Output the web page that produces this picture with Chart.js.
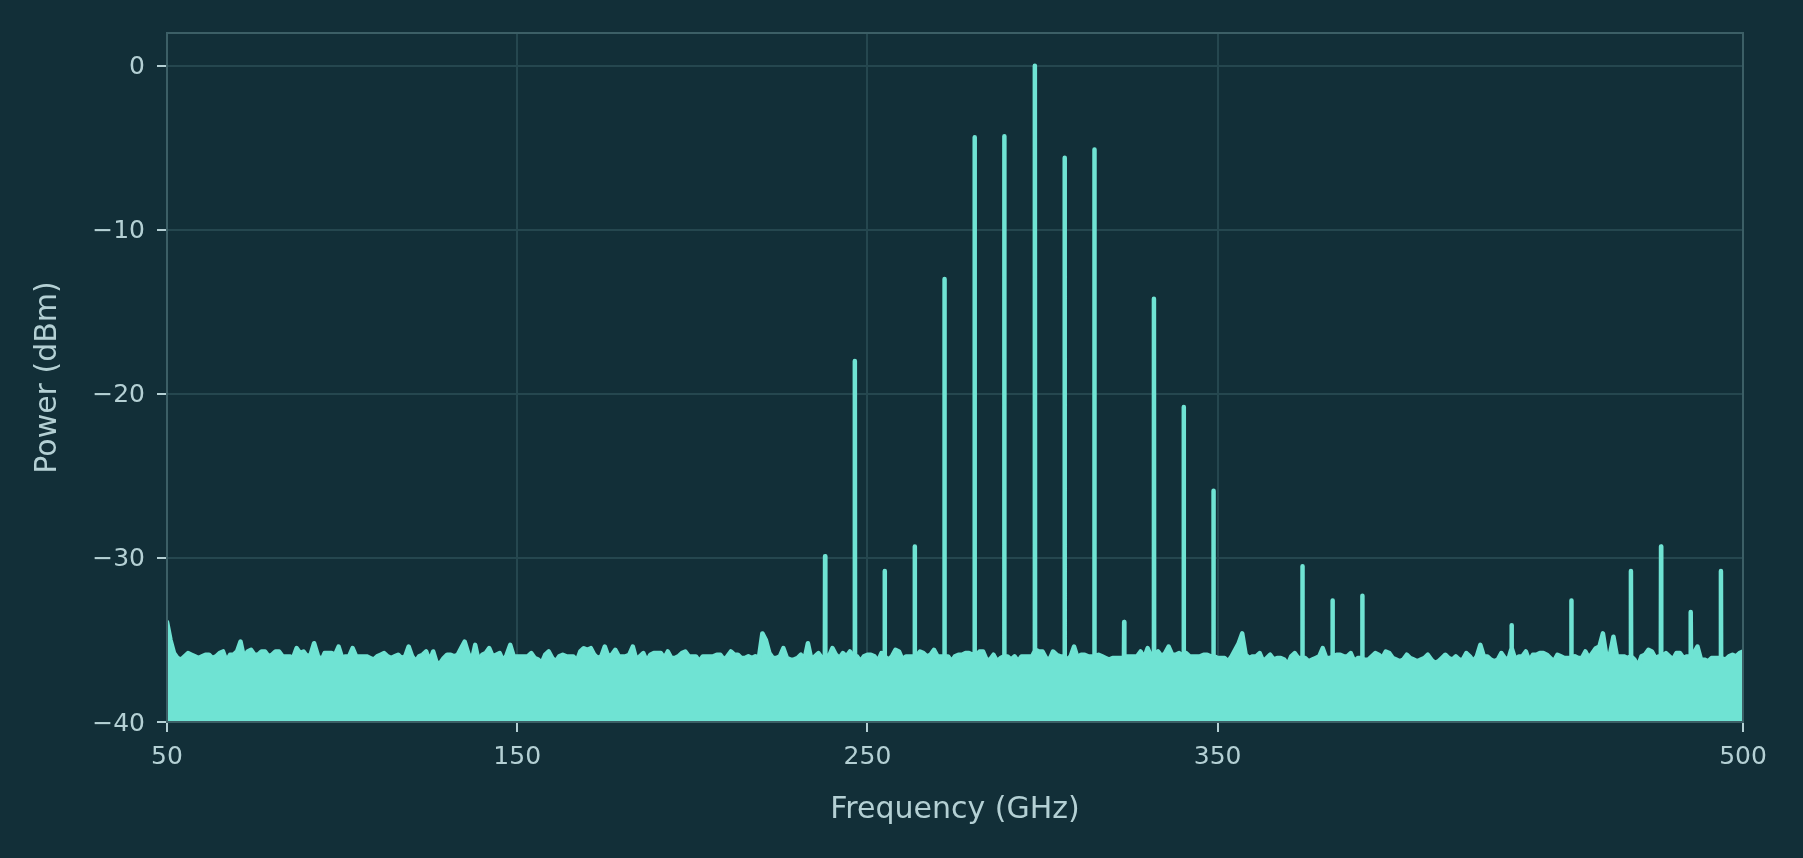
<!DOCTYPE html>
<html>
<head>
<meta charset="utf-8">
<title>Spectrum</title>
<script src="https://cdn.jsdelivr.net/npm/chart.js@4/dist/chart.umd.min.js"></script>
<style>
  html,body{margin:0;padding:0;background:#122f38;}
  #wrap{width:1803px;height:858px;}
</style>
</head>
<body>
<div id="wrap"><canvas id="spec" width="1803" height="858"></canvas></div>
<script>
/* ===========================================================
   DATA — noise floor sampled every 1 GHz from 50 GHz, plus comb lines
   =========================================================== */
var FREQ_START=50;
var floorDbm=[
  -33.9,-35.0,-35.8,-36.1,-36.2,-36.0,-35.8,-35.9,-36.0,-36.1,
  -36.0,-35.9,-35.9,-36.1,-36.0,-35.8,-35.7,-36.3,-35.9,-35.9,
  -35.7,-35.1,-36.1,-35.7,-35.6,-35.9,-35.9,-35.7,-35.7,-36.0,
  -35.9,-35.7,-35.7,-36.0,-36.0,-36.0,-36.1,-35.5,-35.8,-35.7,
  -36.0,-35.9,-35.2,-35.9,-36.3,-35.8,-35.8,-35.8,-35.9,-35.4,
  -36.1,-36.0,-36.0,-35.5,-36.0,-36.0,-36.0,-36.0,-36.1,-36.2,
  -36.0,-35.9,-35.8,-36.0,-36.1,-36.0,-35.9,-36.1,-36.0,-35.4,
  -36.0,-36.3,-36.0,-35.9,-35.7,-36.3,-35.7,-36.4,-36.4,-36.1,
  -35.9,-35.9,-36.0,-35.9,-35.5,-35.1,-35.8,-36.3,-35.3,-36.3,
  -35.9,-35.8,-35.5,-36.0,-35.9,-35.8,-36.3,-35.9,-35.3,-36.0,
  -36.0,-36.0,-36.0,-36.0,-35.8,-36.1,-36.2,-36.4,-35.9,-35.7,
  -36.1,-36.3,-36.0,-35.9,-36.0,-36.0,-36.0,-36.3,-35.7,-35.5,
  -35.6,-35.5,-35.9,-36.1,-36.0,-35.4,-36.0,-35.9,-35.6,-36.0,
  -36.0,-36.0,-35.9,-35.4,-36.2,-36.0,-35.8,-36.3,-35.9,-35.8,
  -35.8,-35.8,-36.1,-35.7,-36.1,-36.1,-36.0,-35.8,-35.7,-36.0,
  -36.0,-36.0,-36.3,-36.0,-36.0,-36.0,-36.0,-35.9,-35.9,-36.2,
  -36.0,-35.7,-35.9,-35.9,-36.1,-36.1,-36.0,-36.1,-36.0,-36.1,
  -34.6,-35.0,-35.8,-36.1,-36.1,-36.0,-35.5,-36.1,-36.2,-36.2,
  -36.1,-35.9,-36.2,-35.2,-36.2,-36.0,-35.8,-36.1,-36.1,-36.0,
  -35.5,-35.9,-36.1,-35.8,-36.0,-35.7,-36.1,-36.0,-36.3,-36.0,
  -35.9,-35.9,-36.0,-36.3,-35.8,-36.0,-36.2,-36.0,-35.6,-35.7,
  -36.2,-36.0,-36.0,-36.0,-36.0,-35.7,-35.8,-36.0,-35.9,-35.6,
  -36.0,-36.0,-36.0,-36.0,-36.3,-36.0,-35.9,-35.9,-35.8,-35.8,
  -35.9,-36.0,-35.7,-35.7,-36.2,-36.2,-35.9,-36.3,-36.1,-36.0,
  -36.0,-36.2,-36.0,-36.3,-36.0,-36.0,-36.0,-36.0,-35.6,-35.7,
  -35.7,-36.1,-36.2,-35.7,-35.9,-36.0,-36.0,-36.2,-36.0,-35.4,
  -36.1,-35.9,-35.9,-36.0,-36.0,-36.0,-35.9,-36.0,-36.1,-36.2,
  -36.1,-36.1,-36.1,-36.1,-36.0,-36.0,-36.0,-36.0,-35.7,-36.1,
  -35.5,-36.0,-36.0,-35.7,-36.0,-35.8,-35.4,-35.9,-35.9,-35.8,
  -36.0,-35.8,-36.0,-36.0,-36.0,-36.0,-35.9,-35.9,-36.0,-36.0,
  -36.1,-36.1,-36.1,-36.3,-36.0,-35.6,-35.2,-34.6,-35.9,-36.1,
  -36.0,-36.0,-35.8,-36.3,-36.1,-35.9,-36.2,-36.1,-36.1,-36.2,
  -36.5,-36.0,-35.8,-36.1,-36.1,-36.1,-36.3,-36.2,-36.1,-36.0,
  -35.5,-36.1,-36.1,-36.0,-35.9,-35.9,-36.0,-36.0,-35.8,-36.3,
  -36.1,-36.1,-36.2,-36.2,-36.0,-35.8,-35.9,-36.1,-35.7,-35.8,
  -36.1,-36.2,-36.3,-36.2,-35.9,-36.1,-36.2,-36.3,-36.2,-36.1,
  -35.9,-36.2,-36.4,-36.3,-36.1,-35.9,-36.1,-36.2,-36.0,-36.2,
  -36.2,-35.8,-36.0,-36.3,-36.0,-35.3,-36.0,-36.0,-36.2,-36.3,
  -36.2,-35.8,-36.1,-36.2,-35.5,-36.2,-36.0,-36.0,-35.7,-36.3,
  -35.9,-35.9,-35.8,-35.8,-35.9,-36.1,-36.3,-35.9,-36.0,-36.1,
  -36.1,-36.1,-36.0,-36.1,-36.1,-35.7,-36.1,-35.8,-35.5,-35.4,
  -34.6,-36.0,-35.9,-34.8,-36.0,-36.0,-36.0,-36.1,-36.0,-36.2,
  -36.6,-36.0,-35.9,-35.6,-35.7,-36.1,-36.0,-36.0,-35.8,-36.0,
  -36.2,-35.8,-35.8,-36.1,-36.0,-36.0,-35.8,-35.4,-36.2,-36.2,
  -36.3,-36.1,-36.1,-36.1,-36.1,-36.2,-36.0,-35.9,-36.0,-35.8,
  -35.7
];
/* comb lines: frequency (GHz) and peak power (dBm) */
var spikeGHz=[237.9,246.4,254.9,263.5,272.0,280.6,289.1,297.8,306.3,314.8,323.3,331.8,340.3,348.8,374.2,382.8,391.3,433.9,451.0,468.0,476.6,485.1,493.7];
var spikeDbm=[-29.9,-18.0,-30.8,-29.3,-13.0,-4.35,-4.3,0.0,-5.6,-5.1,-33.9,-14.2,-20.8,-25.9,-30.5,-32.6,-32.3,-34.1,-32.6,-30.8,-29.3,-33.3,-30.8];
var xTicks=[50,150,250,350,500];
var yTicks=[-40,-30,-20,-10,0];

/* ===========================================================
   STYLE
   =========================================================== */
var BG='#122f38',LINE='#6fe3d3',GRID='#25474f',FRAME='#3c5f66',TXT='#b4d0d4',FONT='DejaVu Sans';

function floorAt(f){
  var p=f-FREQ_START,i=Math.floor(p),t=p-i;
  return floorDbm[i]+(floorDbm[i+1]-floorDbm[i])*t;
}
var pts=[];
floorDbm.forEach(function(v,i){pts.push({x:FREQ_START+i,y:v});});
spikeGHz.forEach(function(f,i){
  var b=floorAt(f);
  pts.push({x:f-0.06,y:b},{x:f,y:spikeDbm[i]},{x:f+0.06,y:b});
});
pts.sort(function(a,b){return a.x-b.x;});

/* background + matplotlib-style frame around the plot area */
var framePlug={
  id:'framePlug',
  beforeDraw:function(c){var x=c.ctx;x.save();x.fillStyle=BG;x.fillRect(0,0,c.width,c.height);x.restore();},
  afterDatasetsDraw:function(c){
    var a=c.chartArea,x=c.ctx;x.save();x.strokeStyle=FRAME;x.lineWidth=2;
    x.strokeRect(a.left,a.top,a.right-a.left,a.bottom-a.top);x.restore();
  }
};
function minus(v){return String(v).replace('-','\u2212');}

new Chart(document.getElementById('spec').getContext('2d'),{
  type:'line',
  data:{datasets:[{
    data:pts,borderColor:LINE,backgroundColor:LINE,borderWidth:4.5,
    pointRadius:0,fill:'start',tension:0,borderJoinStyle:'round',borderCapStyle:'round'
  }]},
  options:{
    responsive:false,animation:false,devicePixelRatio:1,
    layout:{padding:{left:0,right:60,top:33,bottom:0}},
    plugins:{legend:{display:false},tooltip:{enabled:false}},
    scales:{
      x:{
        type:'linear',min:50,max:500,
        afterBuildTicks:function(s){s.ticks=xTicks.map(function(v){return{value:v};});},
        afterFit:function(s){s.height=136;},
        border:{display:false},
        grid:{color:GRID,lineWidth:2,tickColor:TXT,tickLength:10},
        ticks:{color:TXT,font:{family:FONT,size:25},padding:10,maxRotation:0,autoSkip:false,callback:function(v){return minus(v);}},
        title:{display:true,text:'Frequency (GHz)',color:TXT,font:{family:FONT,size:30},padding:{top:0,bottom:30}}
      },
      y:{
        min:-40,max:2,
        afterBuildTicks:function(s){s.ticks=yTicks.map(function(v){return{value:v};});},
        afterFit:function(s){s.width=167;},
        border:{display:false},
        grid:{color:GRID,lineWidth:2,tickColor:TXT,tickLength:10},
        ticks:{color:TXT,font:{family:FONT,size:25},padding:12,labelOffset:2,autoSkip:false,callback:function(v){return minus(v);}},
        title:{display:true,text:'Power (dBm)',color:TXT,font:{family:FONT,size:30},padding:{top:30,bottom:0}}
      }
    }
  },
  plugins:[framePlug]
});
</script>
</body>
</html>
